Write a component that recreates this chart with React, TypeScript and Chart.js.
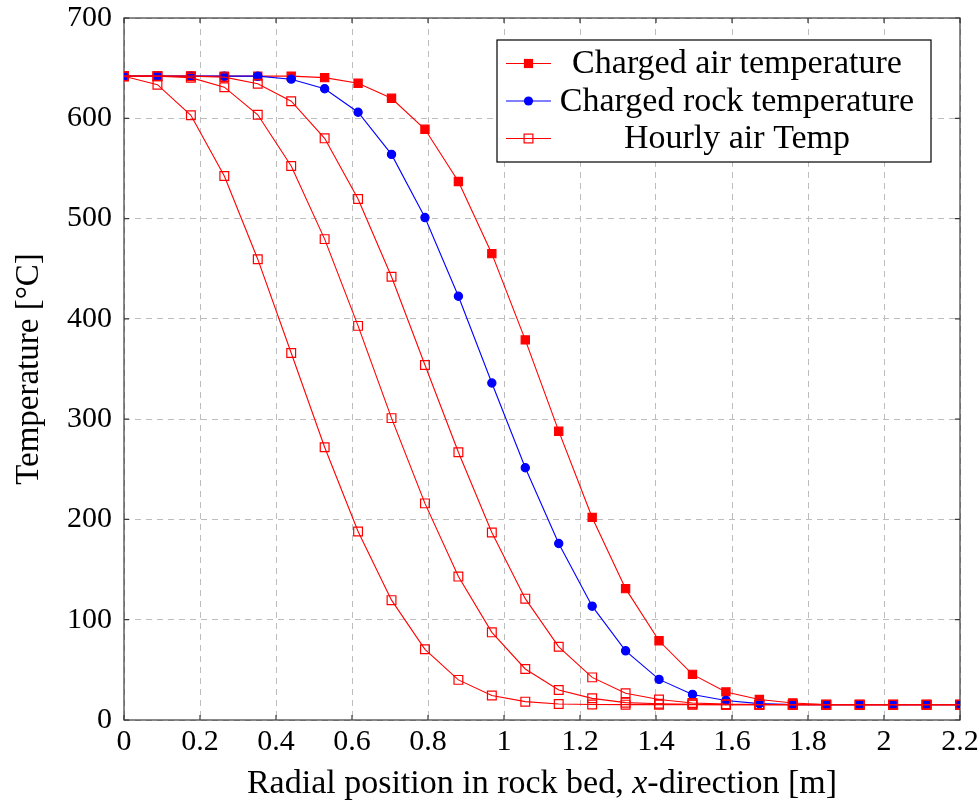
import React, { useEffect, useRef } from "react";
import { Chart, registerables } from "chart.js";

Chart.register(...registerables);

// ---- data ----
const xPositions = [
  0, 0.088, 0.176, 0.264, 0.352, 0.44, 0.528, 0.616, 0.704, 0.792, 0.88, 0.968, 1.056,
  1.144, 1.232, 1.32, 1.408, 1.496, 1.584, 1.672, 1.76, 1.848, 1.936, 2.024, 2.112, 2.2,
];
const chargedAirTemp = [
  642, 642, 642, 642, 642, 642, 640.5, 635, 620, 589, 537, 465, 379, 288, 202, 131, 79, 45.5, 28,
  20.5, 17, 15.3, 15.3, 15.3, 15.3, 15.3,
];
const chargedRockTemp = [
  642, 642, 642, 642, 642, 639, 629.5, 606, 564, 501, 422.5, 336, 251.5, 176, 113.5, 69, 40.5, 25.5,
  19.5, 16.3, 15.3, 15.3, 15.3, 15.3, 15.3, 15.3,
];
const hourlyAirTemp1 = [
  642, 633.5, 603, 542.5, 459.5, 366, 272, 188, 119.5, 70.5, 40, 24.5, 18.3, 16, 15.5, 15.3, 15.3,
  15.3, 15.3, 15.3, 15.3, 15.3, 15.3, 15.3, 15.3, 15.3,
];
const hourlyAirTemp2 = [
  642, 642, 640.5, 631, 603.5, 552.5, 479.5, 393, 301, 216, 143, 87.4, 50.9, 29.9, 21.6, 17.3, 16.2,
  15.6, 15.3, 15.3, 15.3, 15.3, 15.3, 15.3, 15.3, 15.3,
];
const hourlyAirTemp3 = [
  642, 642, 642, 641, 634.5, 617, 580, 519.5, 442, 354, 267, 187, 121, 73, 42.5, 26.6, 20.5, 17,
  15.8, 15.4, 15.3, 15.3, 15.3, 15.3, 15.3, 15.3,
];
const legendLabels = ["Charged air temperature", "Charged rock temperature", "Hourly air Temp"];
const xTitleParts = ["Radial position in rock bed, ", "x", "-direction [m]"];
const yTitle = "Temperature [°C]";

const RED = "#ff0000";
const BLUE = "#0000ff";
const FONT = "'Liberation Serif', 'Times New Roman', serif";

const pts = (ys: number[]) => xPositions.map((x, i) => ({ x, y: ys[i] }));

function drawMarker(ctx: CanvasRenderingContext2D, kind: string, x: number, y: number, color: string) {
  ctx.save();
  ctx.lineWidth = 1.2;
  ctx.strokeStyle = color;
  ctx.fillStyle = color;
  if (kind === "filled") {
    ctx.fillRect(x - 4.6, y - 4.6, 9.2, 9.2);
  } else if (kind === "circle") {
    ctx.beginPath();
    ctx.arc(x, y, 4.6, 0, Math.PI * 2);
    ctx.fill();
  } else {
    ctx.strokeRect(x - 4.4, y - 4.4, 8.8, 8.8);
  }
  ctx.restore();
}

const pgfPlugin = {
  id: "pgfDecor",
  beforeDatasetsDraw(chart: any) {
    const { ctx, chartArea, scales } = chart;
    const { left, right, top, bottom } = chartArea;
    ctx.save();
    ctx.strokeStyle = "#3a3a3a";
    ctx.lineWidth = 1.2;
    ctx.beginPath();
    const tl = 5;
    scales.x.ticks.forEach((t: any) => {
      const px = scales.x.getPixelForValue(t.value);
      ctx.moveTo(px, bottom);
      ctx.lineTo(px, bottom - tl);
      ctx.moveTo(px, top);
      ctx.lineTo(px, top + tl);
    });
    scales.y.ticks.forEach((t: any) => {
      const py = scales.y.getPixelForValue(t.value);
      ctx.moveTo(left, py);
      ctx.lineTo(left + tl, py);
      ctx.moveTo(right, py);
      ctx.lineTo(right - tl, py);
    });
    ctx.stroke();
    ctx.strokeRect(left, top, right - left, bottom - top);
    ctx.restore();
  },
  afterDraw(chart: any) {
    const { ctx, chartArea } = chart;
    ctx.save();
    // x-axis title with italic x
    const size = 34;
    const fonts = [`${size}px ${FONT}`, `italic ${size}px ${FONT}`, `${size}px ${FONT}`];
    let total = 0;
    const widths = xTitleParts.map((p, i) => {
      ctx.font = fonts[i];
      const w = ctx.measureText(p).width;
      total += w;
      return w;
    });
    let cx = (chartArea.left + chartArea.right) / 2 - total / 2;
    ctx.fillStyle = "#000";
    ctx.textAlign = "left";
    ctx.textBaseline = "alphabetic";
    xTitleParts.forEach((p, i) => {
      ctx.font = fonts[i];
      ctx.fillText(p, cx, 793);
      cx += widths[i];
    });
    // y-axis title
    ctx.save();
    ctx.translate(29, (chartArea.top + chartArea.bottom) / 2);
    ctx.rotate(-Math.PI / 2);
    ctx.font = `33px ${FONT}`;
    ctx.textAlign = "center";
    ctx.textBaseline = "middle";
    ctx.fillText(yTitle, 0, 0);
    ctx.restore();

    // legend box
    const bx = 497, by = 40, bw = 434, bh = 122;
    ctx.fillStyle = "#fff";
    ctx.fillRect(bx, by, bw, bh);
    ctx.strokeStyle = "#000";
    ctx.lineWidth = 1.2;
    ctx.strokeRect(bx, by, bw, bh);
    const rows = [
      { y: 63.5, color: RED, kind: "filled" },
      { y: 101, color: BLUE, kind: "circle" },
      { y: 138.5, color: RED, kind: "hollow" },
    ];
    rows.forEach((r, i) => {
      ctx.strokeStyle = r.color;
      ctx.lineWidth = 1.1;
      ctx.beginPath();
      ctx.moveTo(506, r.y);
      ctx.lineTo(551, r.y);
      ctx.stroke();
      drawMarker(ctx, r.kind, 528.5, r.y, r.color);
      ctx.fillStyle = "#000";
      ctx.font = `34px ${FONT}`;
      ctx.textAlign = "center";
      ctx.textBaseline = "middle";
      ctx.fillText(legendLabels[i], 737, r.y + 1);
    });
    ctx.restore();
  },
};

export default function App() {
  const ref = useRef<HTMLCanvasElement | null>(null);
  useEffect(() => {
    if (!ref.current) return;
    const common = {
      borderWidth: 1.1,
      tension: 0,
      pointBorderWidth: 1.2,
    };
    const chart = new Chart(ref.current, {
      type: "line",
      data: {
        datasets: [
          {
            ...common,
            label: legendLabels[0],
            data: pts(chargedAirTemp),
            borderColor: RED,
            backgroundColor: RED,
            pointStyle: "rect",
            pointRadius: 5.8,
            pointBackgroundColor: RED,
            pointBorderColor: RED,
            order: 5,
          },
          {
            ...common,
            label: legendLabels[1],
            data: pts(chargedRockTemp),
            borderColor: BLUE,
            backgroundColor: BLUE,
            pointStyle: "circle",
            pointRadius: 4.1,
            pointBackgroundColor: BLUE,
            pointBorderColor: BLUE,
            order: 4,
          },
          ...[hourlyAirTemp1, hourlyAirTemp2, hourlyAirTemp3].map((ys, k) => ({
            ...common,
            label: legendLabels[2],
            data: pts(ys),
            borderColor: RED,
            backgroundColor: "rgba(0,0,0,0)",
            pointStyle: "rect",
            pointRadius: 6.2,
            pointBackgroundColor: "rgba(0,0,0,0)",
            pointBorderColor: RED,
            order: 3 - k,
          })),
        ],
      },
      options: {
        animation: false,
        responsive: false,
        layout: { padding: { top: 18, right: 18, left: 0, bottom: 0 } },
        plugins: { legend: { display: false }, tooltip: { enabled: false } },
        scales: {
          x: {
            type: "linear",
            min: 0,
            max: 2.2,
            ticks: {
              stepSize: 0.2,
              padding: 4,
              color: "#000",
              font: { family: FONT, size: 30 },
              maxRotation: 0,
              autoSkip: false,
              callback: (v: any) => String(Math.round(Number(v) * 10) / 10),
            },
            grid: { color: "#bdbdbd", lineWidth: 1, drawTicks: false },
            border: { display: false, dash: [6, 5] },
            afterFit: (s: any) => {
              s.height = 85;
              s.paddingLeft = 0;
              s.paddingRight = 0;
            },
          },
          y: {
            min: 0,
            max: 700,
            ticks: {
              stepSize: 100,
              padding: 12,
              color: "#000",
              font: { family: FONT, size: 30 },
            },
            grid: { color: "#bdbdbd", lineWidth: 1, drawTicks: false },
            border: { display: false, dash: [6, 5] },
            afterFit: (s: any) => {
              s.width = 124;
              s.paddingTop = 0;
              s.paddingBottom = 0;
            },
          },
        },
      },
      plugins: [pgfPlugin],
    });
    return () => chart.destroy();
  }, []);
  return (
    <div style={{ position: "fixed", left: 0, top: 0, width: 978, height: 805, background: "#fff" }}>
      <canvas ref={ref} width={978} height={805} style={{ display: "block" }} />
    </div>
  );
}
